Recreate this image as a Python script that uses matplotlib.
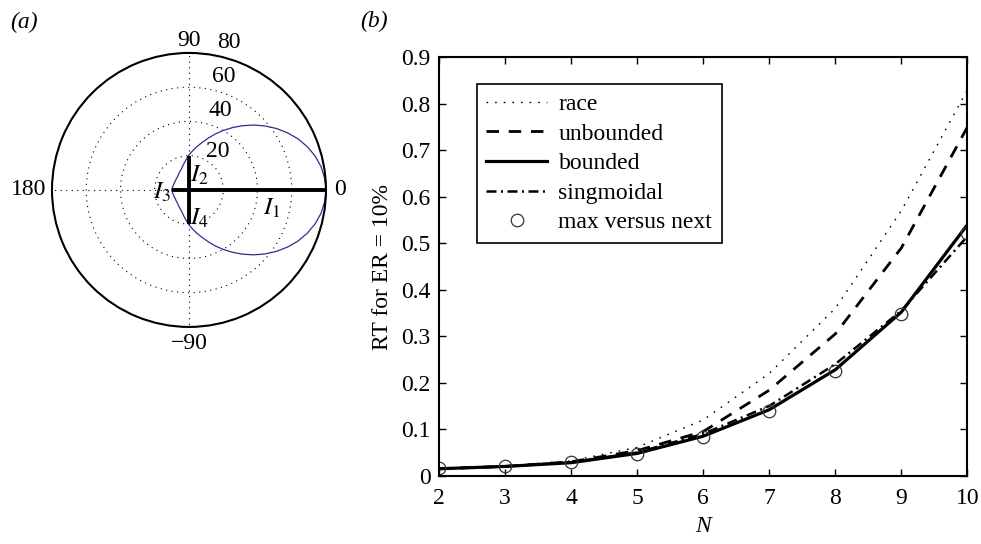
import numpy as np
import matplotlib
matplotlib.use('Agg')
import matplotlib.pyplot as plt

plt.rcParams['font.family'] = ['Liberation Serif', 'DejaVu Serif']
plt.rcParams['mathtext.fontset'] = 'stix'
plt.rcParams['font.size'] = 17

# (a) polar tuning curve, angle in degrees (0..180), mirrored for negative angles
theta_half = [0, 5, 10, 15, 20, 25, 30, 35, 40, 45, 50, 55, 60, 65, 70, 75, 80, 85, 90,
              95, 100, 105, 110, 115, 120, 125, 130, 135, 140, 145, 150, 155, 160, 165, 170, 175, 180]
r_half = [80, 79.5, 78.3, 76.3, 73.6, 70.4, 66.6, 62.5, 58.1, 53.6, 49.0, 44.5, 40.1, 36.0,
          32.0, 28.5, 25.5, 22.8, 20.4, 18.0, 16.0, 14.3, 13.0, 12.2, 11.5, 10.8, 10.3, 10.0,
          9.8, 9.6, 9.5, 9.5, 9.5, 9.6, 9.7, 9.9, 10.1]
# input intensities I1..I4 drawn as thick bars
bar_angles = [0, 90, 180, 270]
bar_values = [80, 20, 10, 20]

# (b) RT for ER = 10%
N = [2, 3, 4, 5, 6, 7, 8, 9, 10]
race = [0.015, 0.02, 0.032, 0.061, 0.12, 0.22, 0.36, 0.57, 0.83]
unbounded = [0.015, 0.02, 0.03, 0.054, 0.095, 0.184, 0.305, 0.49, 0.75]
bounded = [0.015, 0.02, 0.028, 0.048, 0.085, 0.142, 0.228, 0.352, 0.54]
singmoidal = [0.015, 0.02, 0.029, 0.05, 0.09, 0.15, 0.24, 0.355, 0.515]
max_next = [0.016, 0.021, 0.029, 0.047, 0.083, 0.139, 0.225, 0.348, 0.522]

fig = plt.figure(figsize=(9.81, 5.44), dpi=100)

# ---- (a)
ax1 = fig.add_axes([0.053, 0.399, 0.2793, 0.5037], projection='polar')
th = np.deg2rad(theta_half + [-t for t in theta_half[::-1]])
rr = r_half + r_half[::-1]
ax1.plot(th, rr, color='#2e2e8a', lw=0.9)
for a, v in zip(bar_angles, bar_values):
    ax1.plot([np.deg2rad(a)] * 2, [0, v], color='k', lw=2.8, solid_capstyle='butt')
ax1.set_ylim(0, 80)
ax1.set_rgrids([20, 40, 60], labels=['', '', ''])
ax1.set_thetagrids([0, 90, 180, 270], labels=['', '', '', ''])
ax1.grid(True, color='k', linestyle=(0, (1, 4)), lw=0.8)
ax1.spines['polar'].set_linewidth(1.5)

# radial labels
for lab, ang, rad in [('20', 52.6, 27.9), ('40', 68.8, 50), ('60', 73, 69.5), ('80', 75, 89.3)]:
    ax1.text(np.deg2rad(ang), rad, lab, ha='center', va='center', clip_on=False)
# angle labels
for lab, ang, rad in [('0', 0, 88.2), ('90', 90, 87.5), ('180', 180, 93.7), ('\u221290', 270, 89.5)]:
    ax1.text(np.deg2rad(ang), rad, lab, ha='center', va='center', clip_on=False)
# intensity labels
for lab, ang, rad in [('$I_1$', -12.5, 49.5), ('$I_2$', 56, 10.5), ('$I_3$', 186, 15.9), ('$I_4$', -70, 17.4)]:
    ax1.text(np.deg2rad(ang), rad, lab, ha='center', va='center', fontsize=18)

# ---- (b)
ax2 = fig.add_axes([0.4475, 0.1255, 0.5386, 0.769])
ax2.plot(N, race, color='k', lw=1.0, linestyle=(0, (1.2, 5)), label='race')
ax2.plot(N, unbounded, color='k', lw=2.0, linestyle=(0, (4.5, 3.5)), label='unbounded')
ax2.plot(N, bounded, color='k', lw=2.3, label='bounded')
ax2.plot(N, singmoidal, color='k', lw=1.8, linestyle=(0, (4, 1.8, 0.8, 1.8)), label='singmoidal')
ax2.plot(N, max_next, linestyle='none', marker='o', ms=9, mfc='none', mec='#333333',
         mew=0.9, label='max versus next')
ax2.set_xlim(2, 10)
ax2.set_ylim(0, 0.9)
ax2.set_xticks(N)
ax2.set_yticks(np.arange(0, 1.0, 0.1))
ax2.set_yticklabels(['0', '0.1', '0.2', '0.3', '0.4', '0.5', '0.6', '0.7', '0.8', '0.9'])
ax2.tick_params(direction='in', top=True, right=True, length=5, width=1.0)
ax2.tick_params(axis='x', pad=9)
ax2.tick_params(axis='y', pad=6)
for s in ax2.spines.values():
    s.set_linewidth(1.5)
ax2.set_xlabel('N', style='italic', labelpad=5)
ax2.set_ylabel('RT for ER = 10%', labelpad=6)
leg = ax2.legend(loc='upper left', bbox_to_anchor=(0.072, 0.936), borderaxespad=0,
                 fancybox=False, edgecolor='k', framealpha=1, handlelength=2.55,
                 handletextpad=0.5, labelspacing=0.34, borderpad=0.4, fontsize=17)
leg.get_frame().set_linewidth(1.2)

fig.text(24 / 981, 1 - 22 / 544, '(a)', style='italic', ha='center', va='center')
fig.text(374 / 981, 1 - 21 / 544, '(b)', style='italic', ha='center', va='center')

fig.savefig('out.png', dpi=100)
